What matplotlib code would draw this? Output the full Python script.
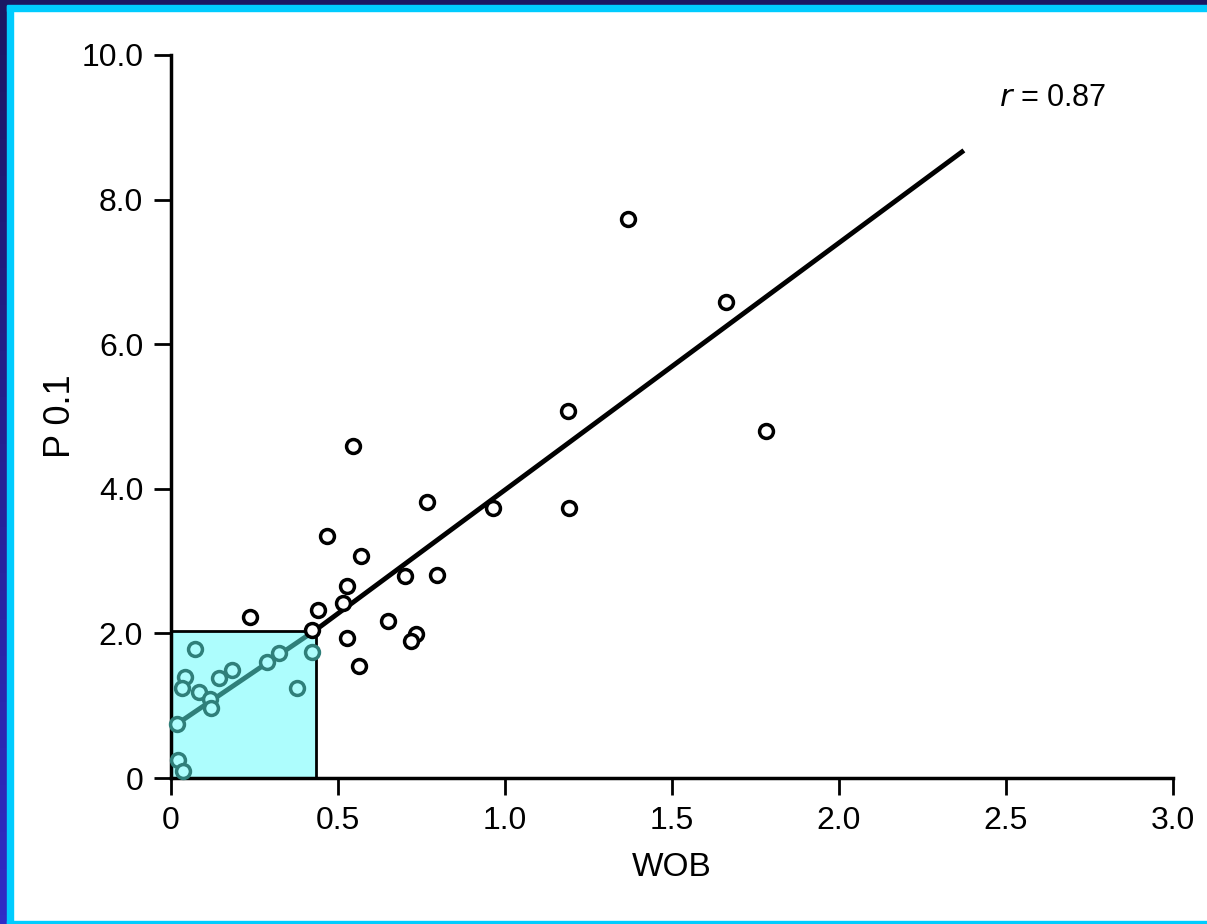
import numpy as np
import matplotlib
matplotlib.use("Agg")
import matplotlib.pyplot as plt
from matplotlib.patches import Rectangle

plt.rcParams['font.family'] = ['Liberation Sans', 'DejaVu Sans']

# points outside the shaded box (black)
wob_black = [1.368, 1.662, 1.781, 1.189, 1.192, 0.964, 0.545, 0.766, 0.467, 0.569,
             0.701, 0.796, 0.527, 0.515, 0.440, 0.237, 0.650, 0.527, 0.735, 0.718,
             0.563, 0.421]
p01_black = [7.73, 6.58, 4.80, 5.08, 3.73, 3.73, 4.59, 3.82, 3.35, 3.07,
             2.79, 2.81, 2.66, 2.42, 2.32, 2.23, 2.17, 1.94, 1.99, 1.89,
             1.55, 2.05]

# points inside the shaded box (teal)
wob_teal = [0.072, 0.042, 0.033, 0.084, 0.144, 0.183, 0.117, 0.120, 0.287, 0.323,
            0.422, 0.377, 0.018, 0.021, 0.036]
p01_teal = [1.78, 1.40, 1.24, 1.19, 1.38, 1.49, 1.09, 0.97, 1.60, 1.73,
            1.74, 1.24, 0.75, 0.25, 0.10]

# regression line pieces
line_teal_x = [0.006, 0.434]
line_teal_y = [0.71, 2.05]
line_black_x = [0.434, 2.368]
line_black_y = [2.05, 8.66]

box_w = 0.434
box_h = 2.03

x_ticks = [0, 0.5, 1.0, 1.5, 2.0, 2.5, 3.0]
x_labels = ['0', '0.5', '1.0', '1.5', '2.0', '2.5', '3.0']
y_ticks = [0, 2, 4, 6, 8, 10]
y_labels = ['0', '2.0', '4.0', '6.0', '8.0', '10.0']

TEAL = '#2f7f7a'
W, H = 1207, 924

fig = plt.figure(figsize=(W / 100, H / 100), dpi=100)
fig.patch.set_facecolor('white')

# frame around the slide
grad = fig.add_axes([0, 0, 7 / W, 1])
grad.imshow(np.linspace(0, 1, 100).reshape(-1, 1), aspect='auto',
            cmap=matplotlib.colors.LinearSegmentedColormap.from_list('nv', ['#1b1763', '#302cc6']),
            extent=[0, 1, 0, 1], origin='upper')
grad.axis('off')
fig.patches.append(Rectangle((7 / W, 0), 6 / W, 1, transform=fig.transFigure,
                             color='#00ccff', zorder=0))
fig.patches.append(Rectangle((0, 1 - 5 / H), 1, 5 / H, transform=fig.transFigure,
                             color='#1b1763', zorder=1))
fig.patches.append(Rectangle((7 / W, 1 - 11 / H), 1, 6 / H, transform=fig.transFigure,
                             color='#00ccff', zorder=1))
fig.patches.append(Rectangle((7 / W, 0), 1, 3 / H, transform=fig.transFigure,
                             color='#00ccff', zorder=1))

ax = fig.add_axes([171 / W, 1 - 778 / H, (1173 - 171) / W, (778 - 55) / H])
ax.set_xlim(0, 3)
ax.set_ylim(0, 10)
ax.set_facecolor('none')

ax.add_patch(Rectangle((0, 0), box_w, box_h, facecolor='#adfdfd',
                       edgecolor='black', linewidth=2, zorder=1))

ax.plot(line_teal_x, line_teal_y, color=TEAL, linewidth=3.5, zorder=2,
        solid_capstyle='butt')
ax.plot(line_black_x, line_black_y, color='black', linewidth=3.5, zorder=2)

ax.plot(wob_teal, p01_teal, linestyle='none', marker='o', markersize=10,
        markerfacecolor='#adfdfd', markeredgecolor=TEAL, markeredgewidth=2.5,
        zorder=3, clip_on=False)
ax.plot(wob_black, p01_black, linestyle='none', marker='o', markersize=10,
        markerfacecolor='white', markeredgecolor='black', markeredgewidth=2.5,
        zorder=3, clip_on=False)

ax.text(2.48, 9.4, r'$\it{r}$ = 0.87', fontsize=22, ha='left', va='center')

for s in ['top', 'right']:
    ax.spines[s].set_visible(False)
for s in ['left', 'bottom']:
    ax.spines[s].set_linewidth(2.5)

ax.set_xticks(x_ticks)
ax.set_xticklabels(x_labels)
ax.set_yticks(y_ticks)
ax.set_yticklabels(y_labels)
ax.tick_params(direction='out', length=12, width=2, labelsize=23, pad=8)

ax.set_xlabel('WOB', fontsize=24, labelpad=12)
ax.set_ylabel('P 0.1', fontsize=26, labelpad=2)

fig.savefig('out.png', dpi=100)
